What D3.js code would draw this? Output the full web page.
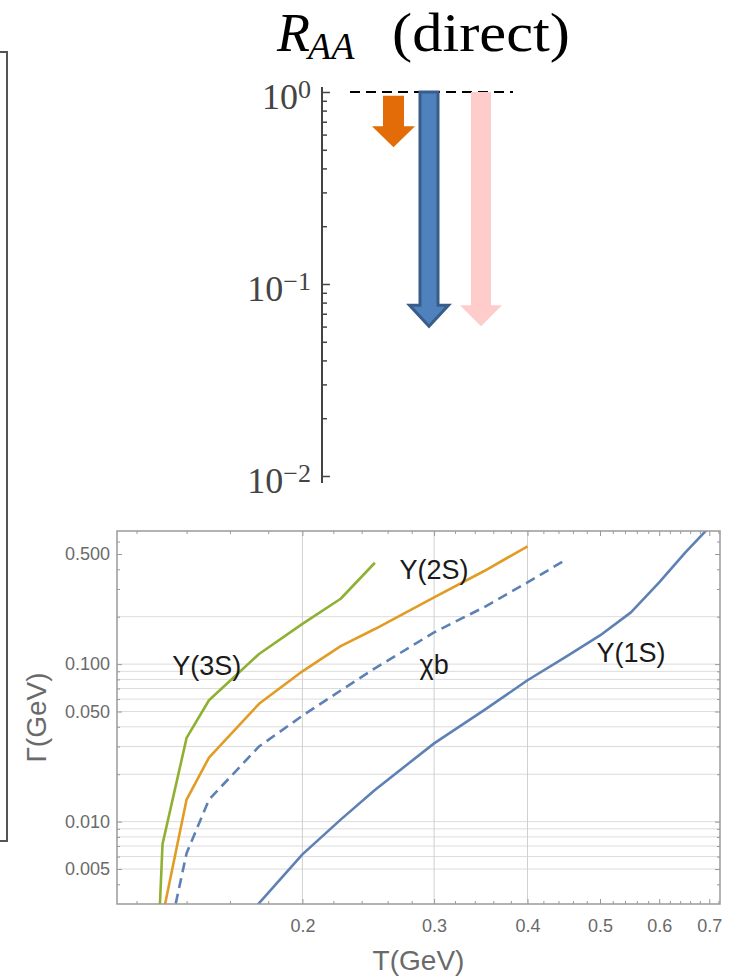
<!DOCTYPE html>
<html>
<head>
<meta charset="utf-8">
<script src="https://cdn.jsdelivr.net/npm/d3@7"></script>
<style>
  body { margin: 0; background: #fff; }
  svg { display: block; }
</style>
</head>
<body>
<div id="chart"></div>
<script>
// R_AA arrows (top panel)
const raaKeys = ["1S", "2S", "3S"];
const raaFrom = [0.955, 1, 1];
const raaTo = [0.516, 0.0602, 0.0602];
const raaMajor = [1, 0.1, 0.01];
const raaMinor = [0.9, 0.8, 0.7, 0.6, 0.5, 0.4, 0.3, 0.2, 0.09, 0.08, 0.07, 0.06, 0.05, 0.04, 0.03, 0.02];

// width vs temperature (bottom panel)
const T1S = [0.17, 0.2, 0.225, 0.25, 0.3, 0.35, 0.4, 0.45, 0.5, 0.55, 0.6, 0.65, 0.7];
const G1S = [0.0026, 0.0062, 0.0103, 0.0159, 0.0314, 0.051, 0.079, 0.111, 0.152, 0.213, 0.33, 0.51, 0.74];
const T2S = [0.13, 0.14, 0.15, 0.175, 0.2, 0.225, 0.25, 0.3, 0.35, 0.375, 0.4];
const G2S = [0.0025, 0.0138, 0.0255, 0.056, 0.09, 0.13, 0.167, 0.265, 0.39, 0.47, 0.56];
const T3S = [0.1285, 0.13, 0.14, 0.15, 0.175, 0.2, 0.225, 0.25];
const G3S = [0.002, 0.0072, 0.034, 0.059, 0.116, 0.18, 0.26, 0.44];
const TChi = [0.134, 0.14, 0.15, 0.175, 0.2, 0.225, 0.25, 0.3, 0.35, 0.4, 0.45];
const GChi = [0.0024, 0.0063, 0.0138, 0.03, 0.047, 0.068, 0.094, 0.159, 0.23, 0.33, 0.46];

const xMajor = [0.2, 0.3, 0.4, 0.5, 0.6, 0.7];
const xMinor = [0.12, 0.14, 0.16, 0.18, 0.22, 0.24, 0.26, 0.28, 0.32, 0.34, 0.36, 0.38,
  0.42, 0.44, 0.46, 0.48, 0.52, 0.54, 0.56, 0.58, 0.62, 0.64, 0.66, 0.68, 0.72];
const yMajor = [0.5, 0.1, 0.05, 0.01, 0.005];
const yMinor = [0.6, 0.4, 0.3, 0.2, 0.09, 0.08, 0.07, 0.06, 0.04, 0.03, 0.02,
  0.009, 0.008, 0.007, 0.006, 0.004];
const xGrid = [0.2, 0.3, 0.4];
const yGrid = [0.2, 0.1, 0.09, 0.08, 0.07, 0.06, 0.05, 0.04, 0.03, 0.02,
  0.01, 0.009, 0.008, 0.007, 0.006, 0.005];

const curveLabels = [
  { text: "Υ(3S)", t: 0.149, g: 0.098 },
  { text: "Υ(2S)", t: 0.3, g: 0.40 },
  { text: "χb", t: 0.3, g: 0.1 },
  { text: "Υ(1S)", t: 0.55, g: 0.119 }
];

const width = 730, height = 976;
const svg = d3.select("#chart").append("svg")
  .attr("width", width)
  .attr("height", height);

// cut-off frame on the left edge
svg.append("path")
  .attr("d", "M0,52H7V841H0")
  .attr("fill", "none")
  .attr("stroke", "#555")
  .attr("stroke-width", 2);

// ---------- top panel ----------
const yR = d3.scaleLog([0.01, 1], [476, 92]);
const xR = d3.scaleOrdinal(raaKeys, [393.5, 429, 481]);
const axX = 322;

svg.append("text")
  .attr("x", 277)
  .attr("y", 51)
  .attr("font-family", "Liberation Serif, serif")
  .attr("font-size", 54)
  .attr("font-style", "italic")
  .text("R")
  .append("tspan")
  .attr("dx", -2)
  .attr("dy", 8)
  .attr("font-size", 38)
  .text("AA");

svg.append("text")
  .attr("x", 392)
  .attr("y", 51)
  .attr("textLength", 178)
  .attr("lengthAdjust", "spacingAndGlyphs")
  .attr("font-family", "Liberation Serif, serif")
  .attr("font-size", 54)
  .text("(direct)");

const topAxis = svg.append("g").attr("transform", `translate(${axX},0)`);
topAxis.append("line")
  .attr("y1", 87).attr("y2", 483)
  .attr("stroke", "#444").attr("stroke-width", 2);
topAxis.call(g => g.append("g")
  .call(d3.axisRight(yR).tickValues(raaMinor).tickSize(5).tickFormat(""))
  .call(a => a.select(".domain").remove()));
topAxis.call(g => g.append("g")
  .call(d3.axisRight(yR).tickValues(raaMajor).tickSize(8).tickFormat(""))
  .call(a => a.select(".domain").remove()));
topAxis.selectAll(".tick line").attr("stroke", "#444").attr("stroke-width", 1.5);

const expLabel = svg.append("g")
  .selectAll("text")
  .data(raaMajor)
  .join("text")
  .attr("x", 311)
  .attr("y", d => yR(d) + 17)
  .attr("text-anchor", "end")
  .attr("font-family", "Liberation Serif, serif")
  .attr("font-size", 36)
  .attr("fill", "#444");
expLabel.append("tspan").text("10");
expLabel.append("tspan")
  .attr("dy", -11)
  .attr("font-size", 26)
  .text(d => Math.round(Math.log10(d)) === 0 ? "0" : "\u2212" + Math.abs(Math.round(Math.log10(d))));

// reference line at R_AA = 1
svg.append("line")
  .attr("x1", 350).attr("x2", 513)
  .attr("y1", yR(1)).attr("y2", yR(1))
  .attr("stroke", "#000")
  .attr("stroke-width", 2)
  .attr("stroke-dasharray", "10,6");

const arrowFill = d3.scaleOrdinal(raaKeys, ["#E36C09", "#4F81BD", "#FFCCCC"]);
const arrowStroke = d3.scaleOrdinal(raaKeys, ["none", "#385D8A", "none"]);
const shaftW = d3.scaleOrdinal(raaKeys, [21, 18, 20]);
const headW = d3.scaleOrdinal(raaKeys, [43, 39, 42]);

svg.append("g")
  .selectAll("path")
  .data(raaKeys.map((k, i) => ({ k, from: raaFrom[i], to: raaTo[i] })))
  .join("path")
  .attr("d", d => {
    const cx = xR(d.k), y0 = yR(d.from), y1 = yR(d.to);
    const s = shaftW(d.k) / 2, h = headW(d.k) / 2, hh = 21;
    return `M${cx - s},${y0}H${cx + s}V${y1 - hh}H${cx + h}L${cx},${y1}L${cx - h},${y1 - hh}H${cx - s}Z`;
  })
  .attr("fill", d => arrowFill(d.k))
  .attr("stroke", d => arrowStroke(d.k))
  .attr("stroke-width", 3)
  .attr("stroke-linejoin", "miter");

// ---------- bottom panel ----------
const margin = { top: 531, right: 10, bottom: 72, left: 117 };
const x = d3.scaleLog([0.113, 0.7235], [margin.left, width - margin.right]);
const y = d3.scaleLog([0.003, 0.7], [height - margin.bottom, margin.top]);
const frameCol = "#9a9a9a";

svg.append("defs").append("clipPath")
  .attr("id", "plot-clip")
  .append("rect")
  .attr("x", margin.left).attr("y", margin.top)
  .attr("width", width - margin.right - margin.left)
  .attr("height", height - margin.bottom - margin.top);

svg.append("g")
  .selectAll("line")
  .data(yGrid)
  .join("line")
  .attr("x1", margin.left).attr("x2", width - margin.right)
  .attr("y1", d => y(d)).attr("y2", d => y(d))
  .attr("stroke", "#dcdcdc").attr("stroke-width", 1);

svg.append("g")
  .selectAll("line")
  .data(xGrid)
  .join("line")
  .attr("y1", margin.top).attr("y2", height - margin.bottom)
  .attr("x1", d => x(d)).attr("x2", d => x(d))
  .attr("stroke", "#d0d0d0").attr("stroke-width", 1);

const fmtY = d3.format(".3f"), fmtX = d3.format(".1f");
const tickStyle = g => {
  g.select(".domain").remove();
  g.selectAll(".tick line").attr("stroke", frameCol).attr("stroke-width", 1);
  g.selectAll(".tick text")
    .attr("fill", "#6a6a6a")
    .attr("font-family", "Liberation Sans, Arial, sans-serif")
    .attr("font-size", 18);
};
const bottomY = height - margin.bottom, rightX = width - margin.right;

svg.append("g").attr("transform", `translate(0,${bottomY})`)
  .call(d3.axisBottom(x).tickValues(xMajor).tickSize(-5).tickPadding(15).tickFormat(fmtX)).call(tickStyle);
svg.append("g").attr("transform", `translate(0,${bottomY})`)
  .call(d3.axisBottom(x).tickValues(xMinor).tickSize(-3).tickFormat("")).call(tickStyle);
svg.append("g").attr("transform", `translate(0,${margin.top})`)
  .call(d3.axisTop(x).tickValues(xMajor).tickSize(-5).tickFormat("")).call(tickStyle);
svg.append("g").attr("transform", `translate(0,${margin.top})`)
  .call(d3.axisTop(x).tickValues(xMinor).tickSize(-3).tickFormat("")).call(tickStyle);
svg.append("g").attr("transform", `translate(${margin.left},0)`)
  .call(d3.axisLeft(y).tickValues(yMajor).tickSize(-5).tickPadding(7).tickFormat(fmtY)).call(tickStyle);
svg.append("g").attr("transform", `translate(${margin.left},0)`)
  .call(d3.axisLeft(y).tickValues(yMinor).tickSize(-3).tickFormat("")).call(tickStyle);
svg.append("g").attr("transform", `translate(${rightX},0)`)
  .call(d3.axisRight(y).tickValues(yMajor).tickSize(-5).tickFormat("")).call(tickStyle);
svg.append("g").attr("transform", `translate(${rightX},0)`)
  .call(d3.axisRight(y).tickValues(yMinor).tickSize(-3).tickFormat("")).call(tickStyle);

const line = d3.line().x(d => x(d[0])).y(d => y(d[1]));
const curves = [
  { t: T3S, g: G3S, color: "#8FB032", dash: null },
  { t: T2S, g: G2S, color: "#E19C24", dash: null },
  { t: TChi, g: GChi, color: "#5E81B5", dash: "10,6" },
  { t: T1S, g: G1S, color: "#5E81B5", dash: null }
];

svg.append("g")
  .attr("clip-path", "url(#plot-clip)")
  .selectAll("path")
  .data(curves)
  .join("path")
  .attr("d", c => line(c.t.map((t, i) => [t, c.g[i]])))
  .attr("fill", "none")
  .attr("stroke", c => c.color)
  .attr("stroke-width", 2.6)
  .attr("stroke-linejoin", "round")
  .attr("stroke-dasharray", c => c.dash);

svg.append("rect")
  .attr("x", margin.left).attr("y", margin.top)
  .attr("width", rightX - margin.left)
  .attr("height", bottomY - margin.top)
  .attr("fill", "none")
  .attr("stroke", frameCol)
  .attr("stroke-width", 1.5);

svg.append("g")
  .selectAll("text")
  .data(curveLabels)
  .join("text")
  .attr("x", d => x(d.t))
  .attr("y", d => y(d.g))
  .attr("dy", "0.35em")
  .attr("text-anchor", "middle")
  .attr("font-family", "Liberation Sans, Arial, sans-serif")
  .attr("font-size", 27)
  .attr("fill", "#1a1a1a")
  .text(d => d.text);

svg.append("text")
  .attr("x", (margin.left + rightX) / 2)
  .attr("y", 970)
  .attr("text-anchor", "middle")
  .attr("font-family", "Liberation Sans, Arial, sans-serif")
  .attr("font-size", 28)
  .attr("fill", "#6a6a6a")
  .text("T(GeV)");

svg.append("text")
  .attr("transform", `translate(46,${(margin.top + bottomY) / 2}) rotate(-90)`)
  .attr("text-anchor", "middle")
  .attr("font-family", "Liberation Sans, Arial, sans-serif")
  .attr("font-size", 28)
  .attr("fill", "#6a6a6a")
  .text("Γ(GeV)");
</script>
</body>
</html>
